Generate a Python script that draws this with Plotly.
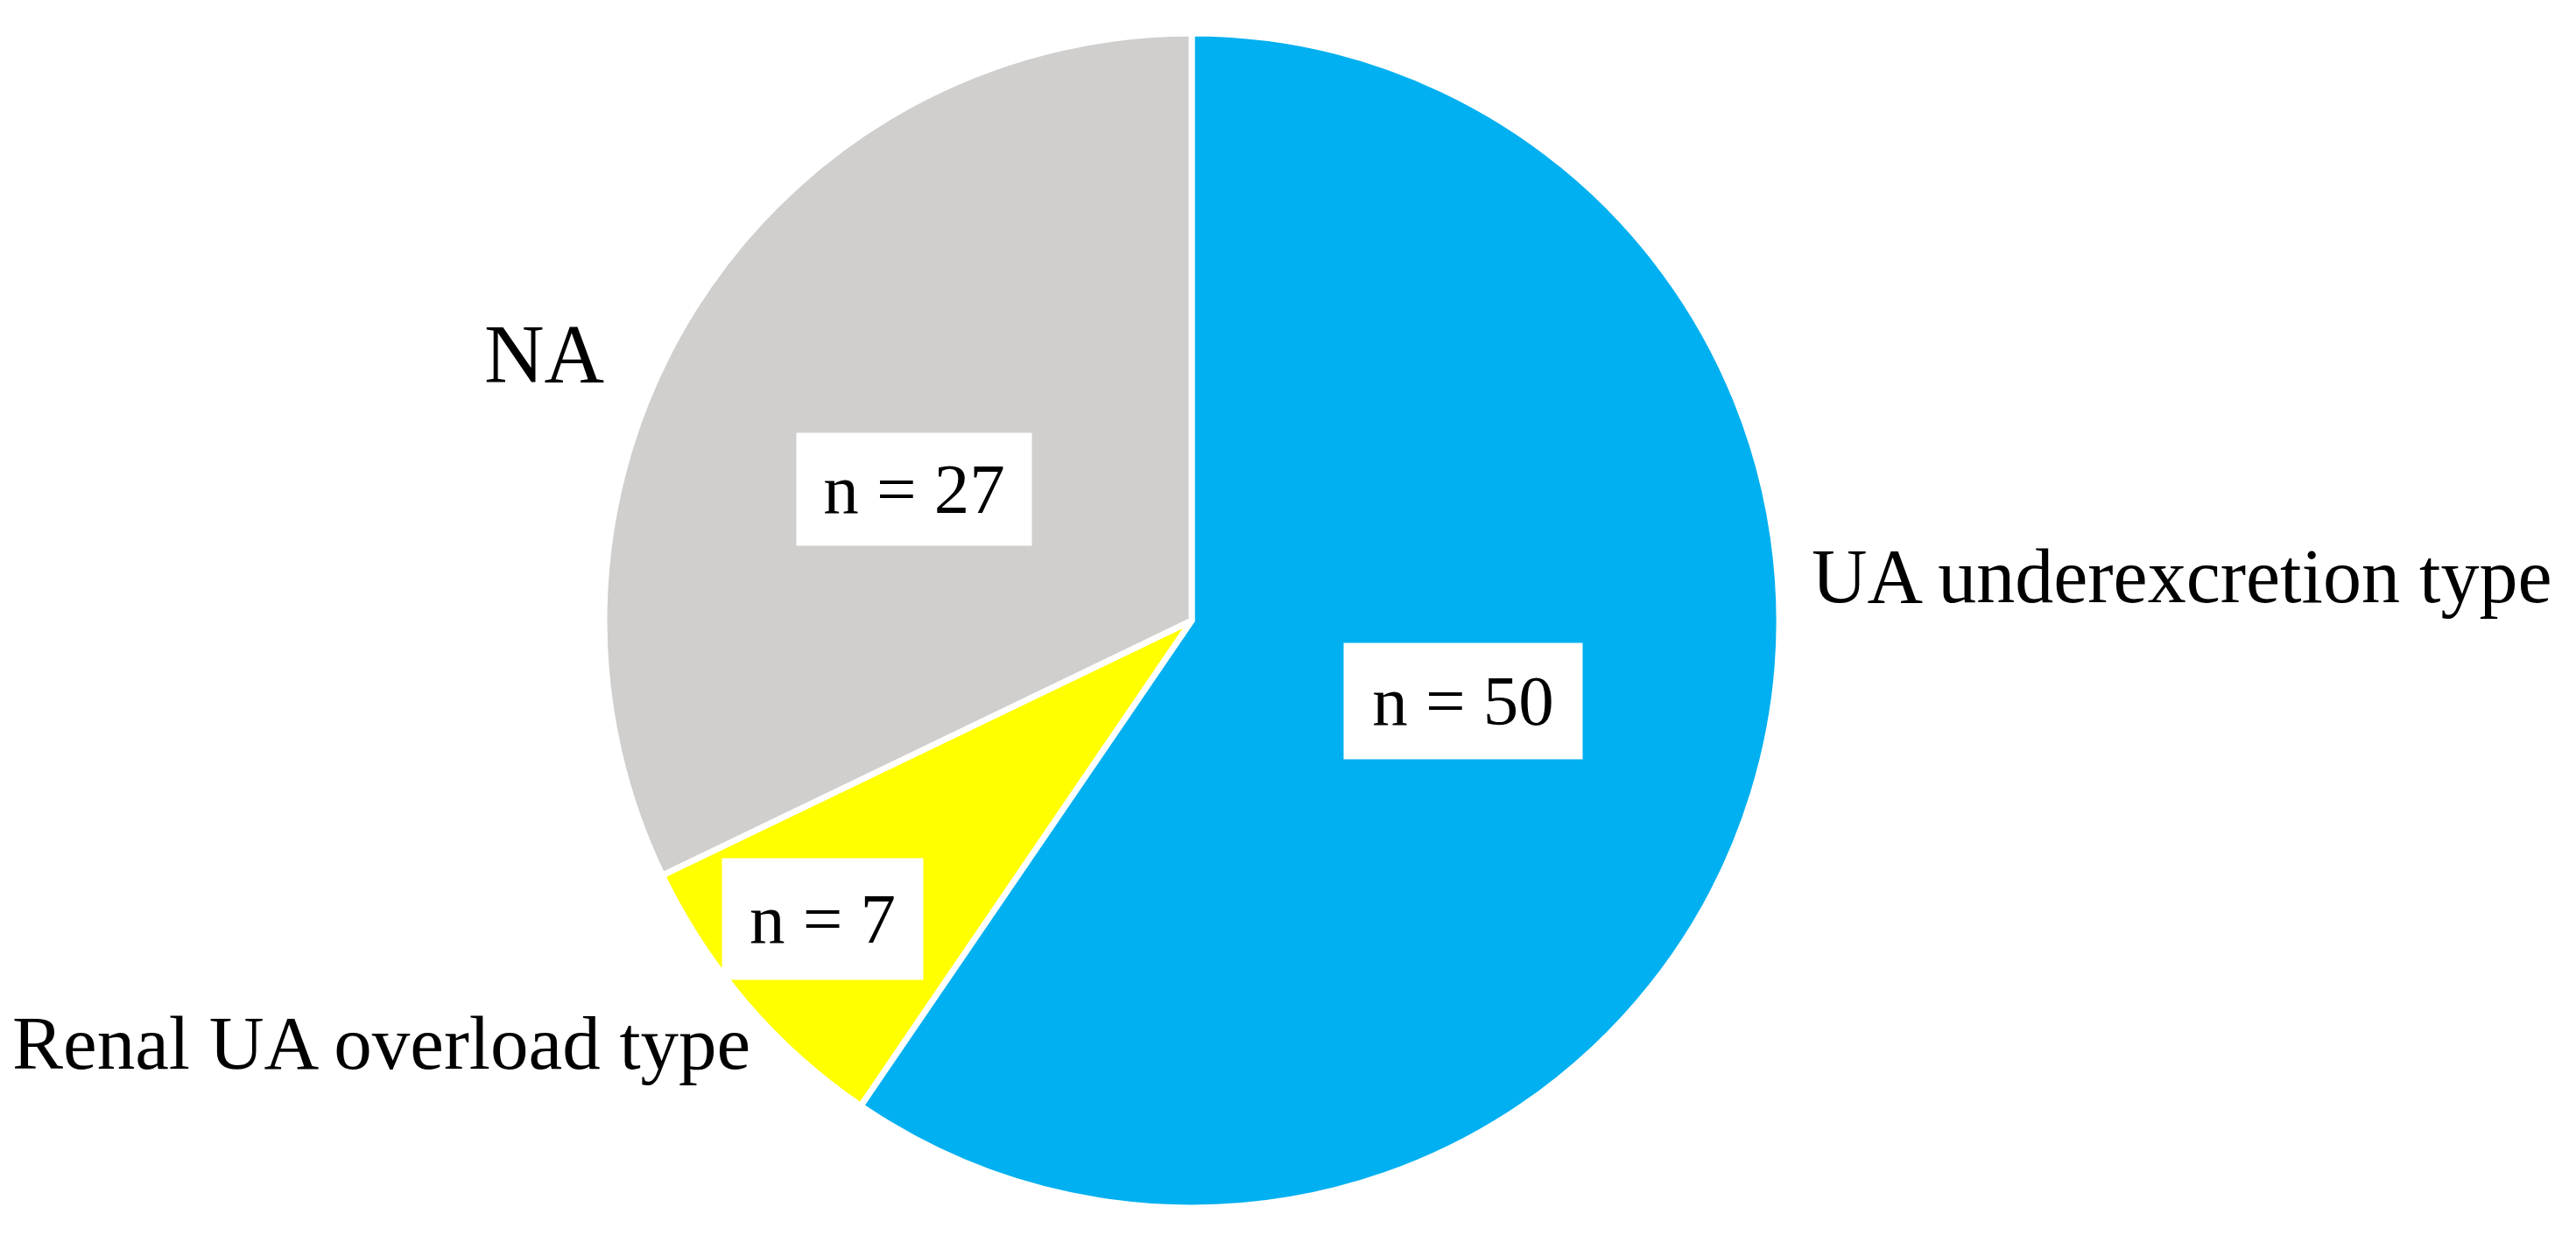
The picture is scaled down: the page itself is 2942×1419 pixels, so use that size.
import plotly.graph_objects as go

categories = ["UA underexcretion type", "Renal UA overload type", "NA"]
counts = [50, 7, 27]
colors = ["#00B0F0", "#FFFF00", "#D0CFCD"]

W, H = 2942, 1419
OFF = 8  # page body margin that shifts the figure
FONT = "Liberation Serif"


def px_x(x):
    return (x - OFF) / W


def px_y(y):
    return 1 - (y - OFF) / H


# pie: centre (1361, 709), radius 671 in page pixels
cx, cy, r = 1361, 709, 671
fig = go.Figure(go.Pie(
    labels=categories,
    values=counts,
    sort=False,
    direction="clockwise",
    rotation=0,
    textinfo="none",
    hoverinfo="label+value",
    marker=dict(colors=colors, line=dict(color="white", width=7)),
    domain=dict(x=[px_x(cx - r), px_x(cx + r)], y=[px_y(cy + r), px_y(cy - r)]),
    showlegend=False,
))

# count boxes (white background) inside slices
boxes = [
    (counts[0], 1671, 801, 272, 132),
    (counts[1], 940, 1050, 229, 138),
    (counts[2], 1044, 559, 268, 128),
]
for n, bx, by, bw, bh in boxes:
    fig.add_annotation(
        text=f"n = {n}", x=px_x(bx), y=px_y(by), xref="paper", yref="paper",
        xanchor="center", yanchor="middle", showarrow=False,
        width=bw, height=bh, bgcolor="white", borderpad=0,
        font=dict(family=FONT, size=81, color="black"),
    )

# outside category labels
outer = [
    (categories[0], 2067, 658, 88),
    (categories[1], 12, 1191, 87),
    (categories[2], 551, 405, 95),
]
for txt, x, y, fs in outer:
    fig.add_annotation(
        text=txt, x=px_x(x), y=px_y(y), xref="paper", yref="paper",
        xanchor="left", yanchor="middle", showarrow=False,
        font=dict(family=FONT, size=fs, color="black"),
    )

fig.update_layout(
    width=W, height=H,
    margin=dict(l=0, r=0, t=0, b=0),
    paper_bgcolor="white",
    plot_bgcolor="white",
)

fig.write_html("out.html")
